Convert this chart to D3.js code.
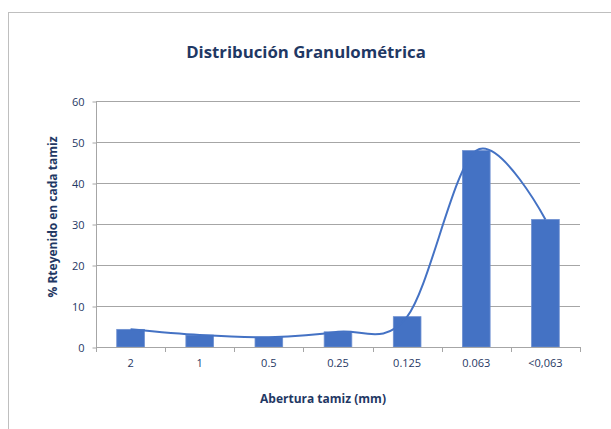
<!DOCTYPE html>
<meta charset="utf-8" />
<style>
  body { margin: 0; background: #fff; }
  text { font-family: "Open Sans", "Liberation Sans", sans-serif; fill: #1f3864; }
</style>
<svg width="611" height="429"></svg>
<script src="https://d3js.org/d3.v7.min.js"></script>
<script>
    // datos de la curva granulométrica
    var categories = ["2", "1", "0.5", "0.25", "0.125", "0.063", "<0,063"];
    var retained = [4.3, 2.9, 2.4, 3.7, 7.4, 47.9, 31.1];
    var yTicks = [0, 10, 20, 30, 40, 50, 60];

    var svg = d3.select("svg");
    var margin = { left: 96, right: 31, top: 101, bottom: 82 };
    var width = +svg.attr("width") - margin.left - margin.right;
    var height = +svg.attr("height") - margin.top - margin.bottom;
    var blue = "#4472c4";

    // marco del gráfico
    svg.append("rect")
        .attr("x", 8.5).attr("y", 12.5)
        .attr("width", 640).attr("height", 450)
        .attr("fill", "none")
        .attr("stroke", "#bfbfbf");

    var g = svg.append("g").attr("transform", "translate(" + margin.left + "," + margin.top + ")");

    var x = d3.scaleBand().domain(categories).range([0, width]).paddingInner(0.6).paddingOuter(0.3);
    var xb = d3.scaleBand().domain(categories).range([0, width]);
    var y = d3.scaleLinear().domain([0, 60]).range([height, 0]);

    // lineas de grilla
    g.append("g")
        .selectAll("line")
        .data(yTicks.slice(1))
        .enter()
        .append("line")
        .attr("x1", 0).attr("x2", width)
        .attr("y1", d => y(d) + 0.5).attr("y2", d => y(d) + 0.5)
        .attr("stroke", "#a6a6a6");

    // eje y
    var yAxis = g.append("g")
        .attr("transform", "translate(0.5,0.5)")
        .call(d3.axisLeft(y).tickValues(yTicks).tickSize(4).tickPadding(8));
    yAxis.select(".domain").attr("stroke", "#a6a6a6").attr("d", "M0," + height + "V0");
    yAxis.selectAll(".tick line").attr("stroke", "#a6a6a6");
    yAxis.selectAll("text").style("font-size", "11px").attr("fill", "#1f3864");

    // barras
    g.append("g")
        .selectAll("rect")
        .data(retained)
        .enter()
        .append("rect")
        .attr("x", (d, i) => x(categories[i]))
        .attr("y", d => y(d))
        .attr("width", x.bandwidth())
        .attr("height", d => height - y(d))
        .attr("fill", blue)
        .attr("stroke", "#6d8fd0")
        .attr("stroke-width", 0.8);

    // eje x
    var xAxis = g.append("g")
        .attr("transform", "translate(0," + (height + 0.5) + ")")
        .call(d3.axisBottom(xb).tickSize(0).tickPadding(12));
    xAxis.select(".domain").attr("stroke", "#a6a6a6").attr("d", "M0,0H" + width);
    xAxis.selectAll("text").style("font-size", "11px").attr("fill", "#1f3864");
    g.append("g")
        .selectAll("line")
        .data(d3.range(categories.length + 1))
        .enter()
        .append("line")
        .attr("x1", d => Math.round(d * xb.step()) + 0.5)
        .attr("x2", d => Math.round(d * xb.step()) + 0.5)
        .attr("y1", height).attr("y2", height + 5)
        .attr("stroke", "#a6a6a6");

    // linea suavizada
    var line = d3.line()
        .x((d, i) => xb(categories[i]) + xb.bandwidth() / 2)
        .y(d => y(d))
        .curve(d3.curveCardinal.tension(0));
    g.append("path")
        .datum(retained)
        .attr("d", line)
        .attr("fill", "none")
        .attr("stroke", blue)
        .attr("stroke-width", 2);

    // titulos
    svg.append("text")
        .attr("x", 306).attr("y", 58)
        .attr("text-anchor", "middle")
        .style("font-size", "16.8px").style("font-weight", "bold")
        .text("Distribución Granulométrica");

    svg.append("text")
        .attr("x", 323).attr("y", 403)
        .attr("text-anchor", "middle")
        .style("font-size", "12px").style("font-weight", "bold")
        .text("Abertura tamiz (mm)");

    svg.append("text")
        .attr("transform", "translate(57,217) rotate(-90)")
        .attr("text-anchor", "middle")
        .style("font-size", "12px").style("font-weight", "bold")
        .text("% Rteyenido en cada tamiz");
</script>
